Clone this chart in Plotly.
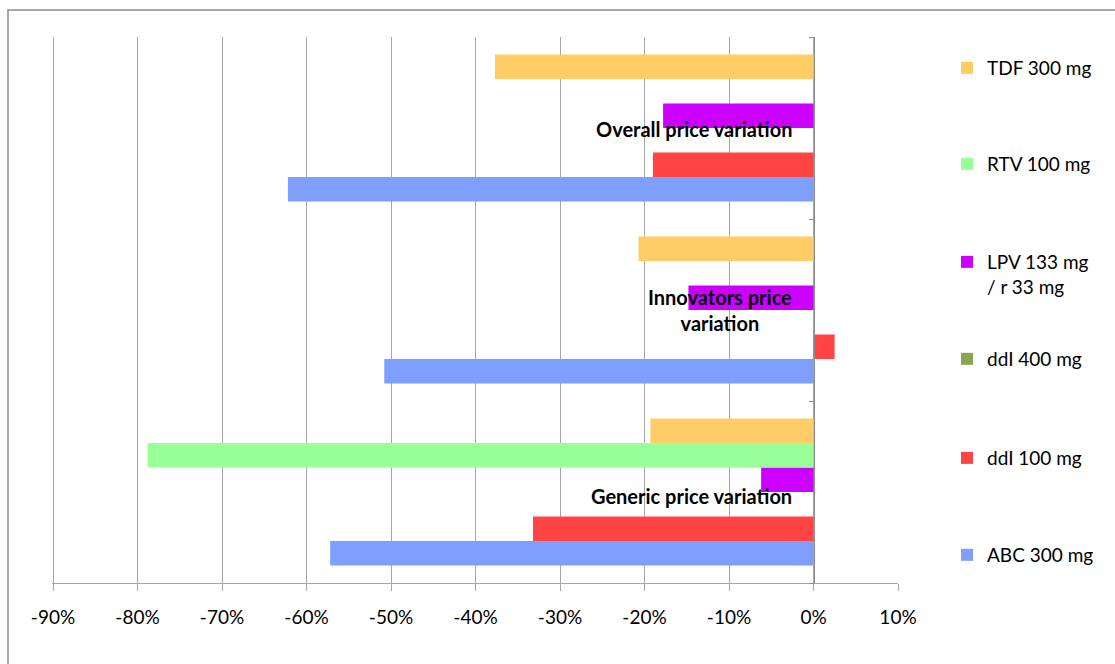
import plotly.graph_objects as go

# ---- data ----
categories = ["Generic price variation", "Innovators price variation", "Overall price variation"]
category_labels = ["Generic price variation", "Innovators price<br>variation", "Overall price variation"]

series_names = ["ABC 300 mg", "ddI 100 mg", "ddI 400 mg", "LPV 133 mg<br>/ r 33 mg", "RTV 100 mg", "TDF 300 mg"]
abc_300 = [-0.572, -0.508, -0.622]
ddi_100 = [-0.332, 0.025, -0.190]
ddi_400 = [0.0, 0.0, 0.0]
lpv_133 = [-0.062, -0.148, -0.178]
rtv_100 = [-0.788, 0.0, 0.0]
tdf_300 = [-0.193, -0.207, -0.377]
series_values = [abc_300, ddi_100, ddi_400, lpv_133, rtv_100, tdf_300]

tick_vals = [-0.9, -0.8, -0.7, -0.6, -0.5, -0.4, -0.3, -0.2, -0.1, 0.0, 0.1]
tick_labels = ["-90%", "-80%", "-70%", "-60%", "-50%", "-40%", "-30%", "-20%", "-10%", "0%", "10%"]

# ---- style ----
colors = ["#7F9FFF", "#FF4444", "#88A550", "#CC00FF", "#99FF99", "#FFCC66"]
legend_ids = ["legend6", "legend5", "legend4", "legend3", "legend2", "legend"]
legend_y = [0.0513, 0.2289, 0.4103, 0.565, 0.7674, 0.9432]
FONT = "Lato"
GRID = "#a6a6a6"

fig = go.Figure()
for name, vals, col, lid in zip(series_names, series_values, colors, legend_ids):
    fig.add_trace(go.Bar(
        y=categories, x=vals, name=name, orientation="h",
        marker=dict(color=col, line=dict(width=0)),
        legend=lid,
    ))

W, H = 1115, 664
L, R, T, B = 52, 217, 37, 81
pw, ph = W - L - R, H - T - B
x_min, x_max = -0.9012, 0.1

layout_legends = {}
for lid, ly in zip(legend_ids, legend_y):
    layout_legends[lid] = dict(
        x=(947 - L) / pw, y=ly, xanchor="left", yanchor="middle",
        bgcolor="rgba(0,0,0,0)", borderwidth=0,
        font=dict(family=FONT, size=19, color="#000000"),
        valign="top", itemclick=False, itemdoubleclick=False,
    )

fig.update_layout(
    width=W, height=H,
    margin=dict(l=L, r=R, t=T, b=B, pad=0),
    paper_bgcolor="white", plot_bgcolor="white",
    barmode="group", bargap=0.192, bargroupgap=0,
    font=dict(family=FONT, size=19, color="#000000"),
    showlegend=True,
    **layout_legends,
)

fig.update_xaxes(
    range=[x_min, x_max], tickvals=tick_vals, ticktext=tick_labels,
    showgrid=True, gridcolor=GRID, gridwidth=1,
    zeroline=False, showline=True, linecolor=GRID, linewidth=1,
    ticks="outside", ticklen=7, tickcolor=GRID,
    ticklabelstandoff=10,
    tickfont=dict(family=FONT, size=19, color="#000000"),
    fixedrange=True,
)
fig.update_yaxes(
    type="category", categoryorder="array", categoryarray=categories,
    anchor="free", position=(0 - x_min) / (x_max - x_min),
    showgrid=False, zeroline=False,
    showline=True, linecolor="#8c8c8c", linewidth=1,
    ticks="outside", tickson="boundaries", ticklen=5, tickcolor="#8c8c8c",
    showticklabels=False, fixedrange=True,
)

label_yshift = [-4, 0, -1]
for cat, lab, ys in zip(categories, category_labels, label_yshift):
    fig.add_annotation(
        x=0, xref="x", y=cat, yref="y", text="<b>" + lab + "</b>",
        xanchor="right", yanchor="middle", xshift=-20, yshift=ys, showarrow=False,
        align="center", font=dict(family=FONT, size=20, color="#000000"),
    )

# outer chart border
fig.add_shape(
    type="rect", xref="paper", yref="paper",
    x0=(8 - L) / pw, x1=(W + 10 - L) / pw,
    y0=-(H + 10 - T - ph) / ph, y1=(H - B - 10) / ph,
    line=dict(color="#8c8c8c", width=1.5), fillcolor="rgba(0,0,0,0)", layer="below",
)

fig.write_html("out.html")
